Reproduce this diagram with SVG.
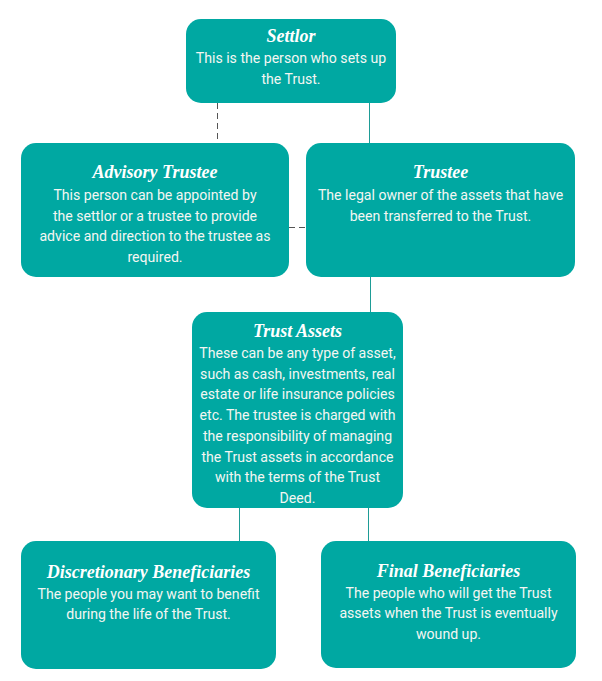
<svg xmlns="http://www.w3.org/2000/svg" width="602" height="681" viewBox="0 0 602 681">
<style>
.box{fill:#00A8A2;}
.t{font-family:"Liberation Serif","DejaVu Serif",serif;font-weight:bold;font-style:italic;font-size:18px;fill:#ffffff;text-anchor:middle;}
.b{font-family:Roboto,"Liberation Sans",sans-serif;font-size:14.1px;fill:#f4f6f2;text-anchor:middle;}
.c{stroke:#1E9C96;stroke-width:1;fill:none;}
.d{stroke-dasharray:6 4;stroke:#555;}
</style>
<rect width="602" height="681" fill="#ffffff"/>
<g id="connectors">
<line class="c d" x1="217.5" y1="103" x2="217.5" y2="143"/>
<line class="c" x1="369.5" y1="103" x2="369.5" y2="143"/>
<line class="c d" x1="289" y1="227.5" x2="306" y2="227.5"/>
<line class="c" x1="370.5" y1="277" x2="370.5" y2="312"/>
<line class="c" x1="239.5" y1="508" x2="239.5" y2="541"/>
<line class="c" x1="368.5" y1="508" x2="368.5" y2="541"/>
</g>
<g id="settlor">
<rect class="box" x="186" y="19" width="210" height="84" rx="15"/>
<text class="t" x="291" y="42">Settlor</text>
<text class="b" x="291" y="63">This is the person who sets up</text>
<text class="b" x="291" y="83.5">the Trust.</text>
</g>
<g id="advisory-trustee">
<rect class="box" x="21" y="143" width="268" height="134" rx="15"/>
<text class="t" x="155" y="178">Advisory Trustee</text>
<text class="b" x="155" y="200">This person can be appointed by</text>
<text class="b" x="155" y="220.5">the settlor or a trustee to provide</text>
<text class="b" x="155" y="241">advice and direction to the trustee as</text>
<text class="b" x="155" y="261.5">required.</text>
</g>
<g id="trustee">
<rect class="box" x="306" y="143" width="269" height="134" rx="15"/>
<text class="t" x="440.5" y="178">Trustee</text>
<text class="b" x="440.5" y="200">The legal owner of the assets that have</text>
<text class="b" x="440.5" y="220.5">been transferred to the Trust.</text>
</g>
<g id="trust-assets">
<rect class="box" x="192" y="312" width="211" height="196" rx="15"/>
<text class="t" x="297.5" y="337">Trust Assets</text>
<text class="b" x="297.5" y="358">These can be any type of asset,</text>
<text class="b" x="297.5" y="378.7">such as cash, investments, real</text>
<text class="b" x="297.5" y="399.4">estate or life insurance policies</text>
<text class="b" x="297.5" y="420.1">etc. The trustee is charged with</text>
<text class="b" x="297.5" y="440.8">the responsibility of managing</text>
<text class="b" x="297.5" y="461.5">the Trust assets in accordance</text>
<text class="b" x="297.5" y="482.2">with the terms of the Trust</text>
<text class="b" x="297.5" y="502.9">Deed.</text>
</g>
<g id="discretionary-beneficiaries">
<rect class="box" x="21" y="541" width="255" height="128" rx="15"/>
<text class="t" x="148.5" y="578">Discretionary Beneficiaries</text>
<text class="b" x="148.5" y="598.5">The people you may want to benefit</text>
<text class="b" x="148.5" y="619">during the life of the Trust.</text>
</g>
<g id="final-beneficiaries">
<rect class="box" x="321" y="541" width="255" height="127" rx="15"/>
<text class="t" x="448.5" y="577">Final Beneficiaries</text>
<text class="b" x="448.5" y="597.5">The people who will get the Trust</text>
<text class="b" x="448.5" y="618">assets when the Trust is eventually</text>
<text class="b" x="448.5" y="638.5">wound up.</text>
</g>
</svg>
